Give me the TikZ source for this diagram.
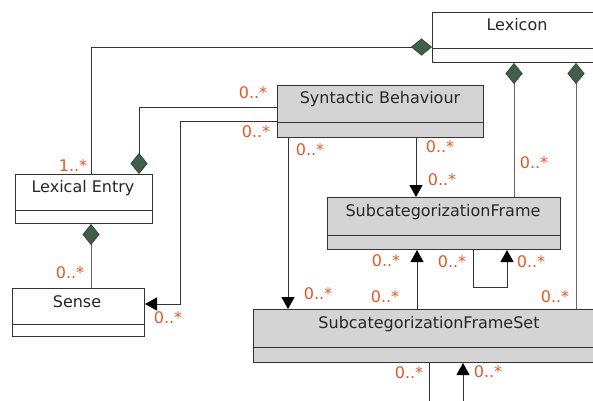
\documentclass[tikz,border=0pt]{standalone}
\usepackage{fontspec}
\setmainfont{DejaVu Sans}
\usetikzlibrary{arrows.meta}
\definecolor{boxgray}{HTML}{D4D4D4}
\definecolor{dgreen}{HTML}{40604A}
\definecolor{lbl}{HTML}{E05A28}
\definecolor{ln}{HTML}{333333}
\definecolor{lnlight}{HTML}{666666}
\begin{document}
\begin{tikzpicture}[x=1pt,y=-1pt,
  umlbox/.style={draw=ln, line width=1pt, inner sep=0pt, anchor=north west},
  whitebox/.style={umlbox, fill=white},
  graybox/.style={umlbox, fill=boxgray},
  title/.style={font=\fontsize{16}{19}\selectfont, text=black!85, inner sep=0pt},
  mult/.style={font=\fontsize{16}{19}\selectfont, text=lbl, inner sep=0pt},
  conn/.style={draw=ln, line width=1pt},
  aggr/.style={draw=lnlight, line width=1pt},
  dia/.style={{Diamond[length=21pt,width=17pt,fill=dgreen,color=ln,line width=0.6pt]}-},
  arr/.style={-{Triangle[length=12pt,width=13pt,color=black]}}
]
\useasboundingbox (0,0) rectangle (593,400);
\clip (0,0) rectangle (593,400);
\fill[white] (0,0) rectangle (593,400);

% boxes
\node[whitebox, minimum width=170pt, minimum height=50pt] (lexicon) at (432,12) {};
\draw[ln, line width=1pt] (lexicon.west |- 0,48) -- (lexicon.east |- 0,48);
\node[title] (lexiconT) at (517,25) {Lexicon};

\node[graybox, minimum width=206pt, minimum height=52pt] (sb) at (277,85) {};
\draw[ln, line width=1pt] (sb.west |- 0,122) -- (sb.east |- 0,122);
\node[title] (sbT) at (380,99) {Syntactic Behaviour};

\node[whitebox, minimum width=137pt, minimum height=49pt] (lex) at (15,174) {};
\draw[ln, line width=1pt] (lex.west |- 0,210) -- (lex.east |- 0,210);
\node[title] (lexT) at (83,188) {Lexical Entry};

\node[whitebox, minimum width=132pt, minimum height=48pt] (sense) at (12,288) {};
\draw[ln, line width=1pt] (sense.west |- 0,324) -- (sense.east |- 0,324);
\node[title] (senseT) at (77,302) {Sense};

\node[graybox, minimum width=233pt, minimum height=52pt] (sf) at (327,197) {};
\draw[ln, line width=1pt] (sf.west |- 0,235) -- (sf.east |- 0,235);
\node[title] (sfT) at (443,212) {SubcategorizationFrame};

\node[graybox, minimum width=352pt, minimum height=53pt] (sfs) at (253,309) {};
\draw[ln, line width=1pt] (sfs.west |- 0,347) -- (sfs.east |- 0,347);
\node[title] (sfsT) at (429,324) {SubcategorizationFrameSet};

% bend coordinates
\coordinate (b1) at (91,47);
\coordinate (b2) at (139,107);
\coordinate (b3a) at (180,121);
\coordinate (b3b) at (180,304);
\coordinate (b10a) at (473,287);
\coordinate (b10b) at (507,287);
\coordinate (b11a) at (429,410);
\coordinate (b11b) at (463,410);

% connectors
\draw[conn, dia] (lexicon.west |- b1) -- (b1) -- (b1 |- lex.north);
\draw[conn, dia] (b2 |- lex.north) -- (b2) -- (b2 -| sb.west);
\draw[conn, arr] (b3a -| sb.west) -- (b3a) -- (b3b) -- (b3b -| sense.east);
\draw[aggr, dia] (91,0 |- lex.south) -- (91,0 |- sense.north);
\draw[conn, arr] (416,0 |- sb.south) -- (416,0 |- sf.north);
\draw[conn, arr] (288,0 |- sb.south) -- (288,0 |- sfs.north);
\draw[aggr, dia] (514,0 |- lexicon.south) -- (514,0 |- sf.north);
\draw[aggr, dia] (576,0 |- lexicon.south) -- (576,0 |- sfs.north);
\draw[conn, arr] (417,0 |- sfs.north) -- (417,0 |- sf.south);
\draw[conn, arr] (b10a |- sf.south) -- (b10a) -- (b10b) -- (b10b |- sf.south);
\draw[conn, arr] (b11a |- sfs.south) -- (b11a) -- (b11b) -- (b11b |- sfs.south);

% multiplicities
\node[mult] (m1) at (73,166) {1..*};
\node[mult] (m2) at (253,93) {0..*};
\node[mult] (m3) at (256,132) {0..*};
\node[mult] (m4) at (168,318) {0..*};
\node[mult] (m5) at (70,273) {0..*};
\node[mult] (m6) at (310,150) {0..*};
\node[mult] (m7) at (440,147) {0..*};
\node[mult] (m8) at (442,180) {0..*};
\node[mult] (m9) at (534,163) {0..*};
\node[mult] (m10) at (386,261) {0..*};
\node[mult] (m11) at (452,262) {0..*};
\node[mult] (m12) at (531,262) {0..*};
\node[mult] (m13) at (318,294) {0..*};
\node[mult] (m14) at (385,297) {0..*};
\node[mult] (m15) at (555,297) {0..*};
\node[mult] (m16) at (409,373) {0..*};
\node[mult] (m17) at (488,372) {0..*};
\end{tikzpicture}
\end{document}
